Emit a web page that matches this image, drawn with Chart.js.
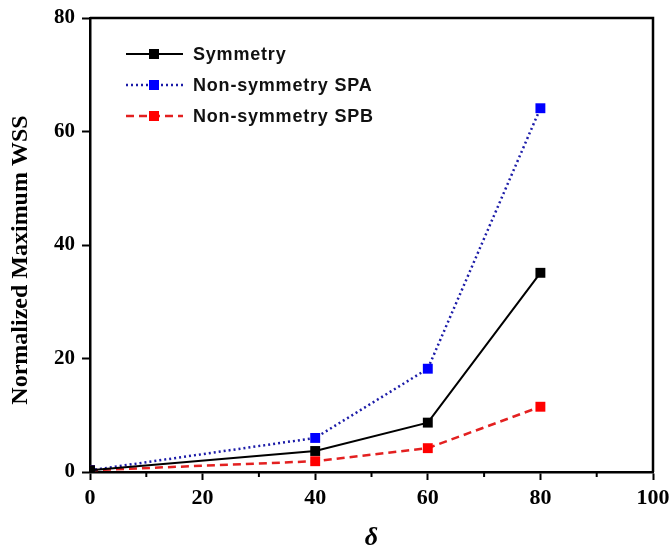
<!DOCTYPE html>
<html>
<head>
<meta charset="utf-8">
<script src="https://cdn.jsdelivr.net/npm/chart.js@4.4.1/dist/chart.umd.min.js"></script>
<style>
  html, body { margin: 0; padding: 0; background: #fff; }
</style>
</head>
<body>
<canvas id="wss-chart" width="670" height="551"></canvas>
<script>
// delta values on the x axis
const deltaValues = [0, 40, 60, 80];
// Normalized maximum WSS per series
const symmetry = [0.3, 3.7, 8.7, 35.1];
const nonSymSPA = [0.3, 6.0, 18.2, 64.1];
const nonSymSPB = [0.3, 1.9, 4.2, 11.5];
const seriesLabels = ['Symmetry', 'Non-symmetry SPA', 'Non-symmetry SPB'];
// minor ticks on the x axis
const xMinorTicks = [10, 30, 50, 70, 90];

const toPoints = vals => deltaValues.map((x, i) => ({ x: x, y: vals[i] }));

// Box on top/right, minor x ticks and the inset legend
const framePlugin = {
  id: 'frame',
  afterDraw(chart) {
    const ctx = chart.ctx;
    const a = chart.chartArea;
    const xs = chart.scales.x;
    ctx.save();
    ctx.strokeStyle = '#000';
    ctx.lineWidth = 2.5;
    ctx.beginPath();
    ctx.moveTo(a.left, a.top);
    ctx.lineTo(a.right, a.top);
    ctx.lineTo(a.right, a.bottom);
    ctx.stroke();

    ctx.lineWidth = 2;
    xMinorTicks.forEach(v => {
      const px = xs.getPixelForValue(v);
      ctx.beginPath();
      ctx.moveTo(px, a.bottom);
      ctx.lineTo(px, a.bottom + 5);
      ctx.stroke();
    });

    // legend
    const rows = [54, 85, 116];
    chart.data.datasets.forEach((ds, i) => {
      const y = rows[i];
      ctx.strokeStyle = ds.borderColor;
      ctx.lineWidth = ds.borderWidth;
      ctx.setLineDash(ds.borderDash || []);
      ctx.beginPath();
      ctx.moveTo(126, y);
      ctx.lineTo(183, y);
      ctx.stroke();
      ctx.setLineDash([]);
      ctx.fillStyle = ds.pointBackgroundColor;
      ctx.fillRect(154 - 5, y - 5, 10, 10);
      ctx.fillStyle = '#111';
      ctx.font = 'bold 18px "Liberation Sans", Arial, sans-serif';
      ctx.letterSpacing = '0.8px';
      ctx.textBaseline = 'middle';
      ctx.textAlign = 'left';
      ctx.fillText(ds.label, 193, y + 1);
      ctx.letterSpacing = '0px';
    });
    ctx.restore();
  }
};

const ctx = document.getElementById('wss-chart').getContext('2d');
const wssChart = new Chart(ctx, {
  type: 'line',
  data: {
    datasets: [{
      label: seriesLabels[0],
      data: toPoints(symmetry),
      borderColor: '#000000',
      borderWidth: 2,
      pointStyle: 'rect',
      pointRadius: 7,
      pointBackgroundColor: '#000000',
      pointBorderWidth: 0
    }, {
      label: seriesLabels[1],
      data: toPoints(nonSymSPA),
      borderColor: '#1c1ca8',
      borderWidth: 2.5,
      borderDash: [2, 3],
      pointStyle: 'rect',
      pointRadius: 7,
      pointBackgroundColor: '#0000ff',
      pointBorderWidth: 0
    }, {
      label: seriesLabels[2],
      data: toPoints(nonSymSPB),
      borderColor: '#e32020',
      borderWidth: 2.5,
      borderDash: [8, 5],
      pointStyle: 'rect',
      pointRadius: 7,
      pointBackgroundColor: '#ff0000',
      pointBorderWidth: 0
    }]
  },
  options: {
    responsive: false,
    animation: false,
    layout: { padding: { top: 18, right: 17, left: 0, bottom: 0 } },
    plugins: {
      legend: { display: false },
      tooltip: { enabled: false }
    },
    scales: {
      x: {
        type: 'linear',
        min: 0,
        max: 100,
        afterFit: scale => {
          scale.height = 79;
          scale.paddingLeft = 0;
          scale.paddingRight = 0;
        },
        ticks: {
          stepSize: 20,
          color: '#000',
          padding: 5,
          font: { family: '"Liberation Serif", "Times New Roman", serif', size: 22, weight: 'bold' }
        },
        grid: { drawOnChartArea: false, color: '#000', tickLength: 8, tickWidth: 2 },
        border: { display: true, color: '#000', width: 2.5 },
        title: {
          display: true,
          text: 'δ',
          color: '#000',
          padding: { top: 0, bottom: 0 },
          font: { family: '"Liberation Serif", "Times New Roman", serif', size: 26, weight: 'bold', style: 'italic', lineHeight: 1 }
        }
      },
      y: {
        min: 0,
        max: 80,
        afterFit: scale => {
          scale.width = 90;
          scale.paddingTop = 0;
          scale.paddingBottom = 0;
        },
        ticks: {
          stepSize: 20,
          color: '#000',
          padding: 7,
          font: { family: '"Liberation Serif", "Times New Roman", serif', size: 21, weight: 'bold' }
        },
        grid: { drawOnChartArea: false, color: '#000', tickLength: 8, tickWidth: 2 },
        border: { display: true, color: '#000', width: 2.5 },
        title: {
          display: true,
          text: 'Normalized Maximum WSS\u00a0\u00a0\u00a0\u00a0\u00a0',
          color: '#000',
          padding: { top: 9, bottom: 0 },
          font: { family: '"Liberation Serif", "Times New Roman", serif', size: 24, weight: 'bold', lineHeight: 1 }
        }
      }
    }
  },
  plugins: [framePlugin]
});
</script>
</body>
</html>
